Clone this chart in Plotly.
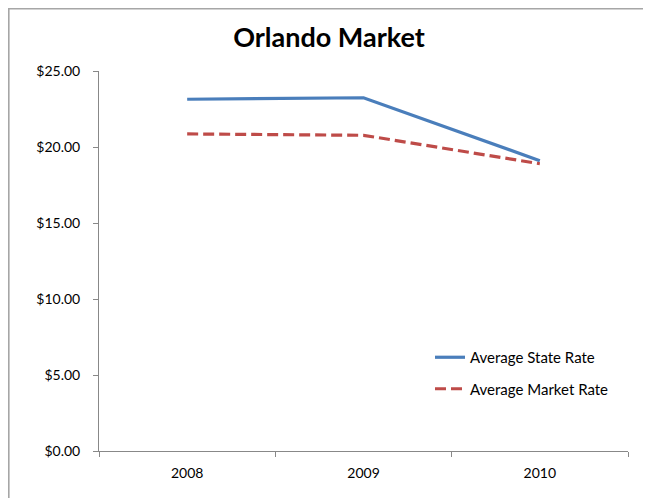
import plotly.graph_objects as go

years = ["2008", "2009", "2010"]
state_rate = [23.14, 23.24, 19.1]
market_rate = [20.86, 20.77, 18.9]
y_ticks = [0, 5, 10, 15, 20, 25]
y_tick_labels = ["$0.00", "$5.00", "$10.00", "$15.00", "$20.00", "$25.00"]

FONT = "Lato"
AXIS_COLOR = "#888888"
OFF = 8  # page body margin

fig = go.Figure()
fig.add_trace(go.Scatter(
    x=years, y=state_rate, mode="lines", name="Average State Rate",
    line=dict(color="#4A7EBB", width=3.2), legendgroup="a",
))
fig.add_trace(go.Scatter(
    x=years, y=market_rate, mode="lines", name="Average Market Rate",
    line=dict(color="#BE4B48", width=3.2, dash="11px,5px"), legendgroup="b",
))

W, H = 651 - OFF, 498 - OFF
L = 99 - OFF
T = 71 - OFF
R = W - (628 - OFF)
B = H - (451 - OFF)
pw = W - L - R
ph = H - T - B

def px_x(page_x):
    return (page_x - OFF - L) / pw

def px_y(page_y):
    return (H - B - (page_y - OFF)) / ph

fig.update_layout(
    width=W, height=H,
    margin=dict(l=L, r=R, t=T, b=B, pad=0),
    paper_bgcolor="white", plot_bgcolor="white",
    font=dict(family=FONT, size=14, color="#000000"),
    title=dict(text="<b>Orlando Market</b>", xref="paper", x=px_x(329), xanchor="center",
               yref="container", y=1 - (38 - OFF) / H, yanchor="middle",
               font=dict(family=FONT, size=27, color="#000000")),
    showlegend=True,
    legend=dict(
        x=px_x(430), xanchor="left",
        y=px_y(341), yanchor="top",
        bgcolor="rgba(0,0,0,0)", traceorder="grouped", tracegroupgap=9,
        font=dict(family=FONT, size=15, color="#000000"),
    ),
    xaxis=dict(
        type="category", range=[-0.5, 2.5], showgrid=False,
        showline=True, linecolor=AXIS_COLOR, linewidth=1,
        ticks="outside", ticklen=5, tickcolor=AXIS_COLOR, tickson="boundaries",
        ticklabelstandoff=9,
        tickfont=dict(family=FONT, size=14), zeroline=False, fixedrange=True,
    ),
    yaxis=dict(
        range=[0, 25], tickvals=y_ticks, ticktext=y_tick_labels, showgrid=False,
        showline=True, linecolor=AXIS_COLOR, linewidth=1,
        ticks="outside", ticklen=5, tickcolor=AXIS_COLOR,
        ticklabelstandoff=10,
        tickfont=dict(family=FONT, size=14), zeroline=False, fixedrange=True,
    ),
    shapes=[dict(
        type="rect", xref="paper", yref="paper",
        x0=px_x(OFF + 0.8), x1=px_x(649),
        y0=px_y(510), y1=px_y(OFF + 0.8),
        line=dict(color="#A6A6A6", width=1.6), fillcolor="rgba(0,0,0,0)", layer="below",
    )],
)

fig.write_html("out.html")
